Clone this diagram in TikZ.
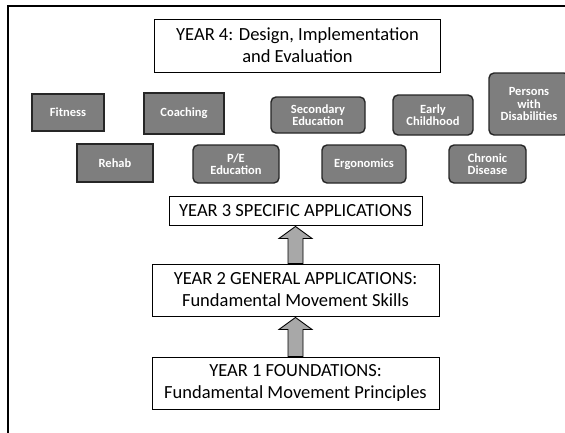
\documentclass[tikz,border=0pt]{standalone}
\usepackage{fontspec}
\setmainfont{Carlito}
\usetikzlibrary{calc}
\definecolor{boxgray}{HTML}{7E7E7E}
\definecolor{arrowgray}{HTML}{A8A8A8}
\tikzset{
  yearbox/.style={draw=black, line width=0.9pt, fill=white, inner sep=0pt, align=center,
    font=\fontsize{18.5}{22}\selectfont},
  appbox/.style={draw=black!85, line width=1.4pt, fill=boxgray, text=white, inner sep=0pt,
    align=center, font=\fontsize{12.5}{12.5}\selectfont\bfseries},
  roundbox/.style={appbox, rounded corners=5pt},
  blockarrow/.style={draw=black, line width=0.9pt, fill=arrowgray, line join=miter},
  frame/.style={draw=black, line width=1.4pt}
}
\begin{document}
\begin{tikzpicture}[x=1pt,y=-1pt]
\useasboundingbox (0,0) rectangle (565,432);
\draw[frame] (8,440) -- (8,6) -- (575,6);
% Year boxes
\node[yearbox, minimum width=286pt, minimum height=53pt] (y4) at (297.5,45.5)
  {YEAR 4: Design, Implementation\\and Evaluation};
\node[yearbox, minimum width=253pt, minimum height=29pt] (y3) at (295.5,210.5)
  {YEAR 3 SPECIFIC APPLICATIONS};
\node[yearbox, minimum width=287pt, minimum height=52pt] (y2) at (295.5,290)
  {YEAR 2 GENERAL APPLICATIONS:\\Fundamental Movement Skills};
\node[yearbox, minimum width=287pt, minimum height=52pt] (y1) at (295.5,383)
  {YEAR 1 FOUNDATIONS:\\Fundamental Movement Principles};
% Application boxes
\node[appbox, minimum width=72pt, minimum height=37pt] (fit) at (68,112.5) {Fitness};
\node[appbox, minimum width=80pt, minimum height=41pt] (coach) at (184,113.5) {Coaching};
\node[roundbox, minimum width=94pt, minimum height=36pt] (sec) at (318,115) {Secondary\\Education};
\node[roundbox, minimum width=80pt, minimum height=40pt] (early) at (433,115) {Early\\Childhood};
\node[roundbox, minimum width=80pt, minimum height=62pt] (pers) at (529,104) {Persons\\with\\Disabilities};
\node[appbox, minimum width=76pt, minimum height=38pt] (rehab) at (115,163) {Rehab};
\node[roundbox, minimum width=86pt, minimum height=38pt] (pe) at (236,164) {P/E\\Education};
\node[roundbox, minimum width=84pt, minimum height=38pt] (ergo) at (364,164) {Ergonomics};
\node[roundbox, minimum width=77pt, minimum height=38pt] (chron) at (487.5,164) {Chronic\\Disease};
% Block arrows
\draw[blockarrow] ($(y2.north)+(-7.5,0)$) -- ($(y3.south)+(-7.5,13)$) -- ($(y3.south)+(-16.5,13)$)
  -- ($(y3.south)+(0,1)$) -- ($(y3.south)+(16.5,13)$) -- ($(y3.south)+(7.5,13)$)
  -- ($(y2.north)+(7.5,0)$) -- cycle;
\draw[blockarrow] ($(y1.north)+(-7.5,0)$) -- ($(y2.south)+(-7.5,13)$) -- ($(y2.south)+(-16.5,13)$)
  -- ($(y2.south)+(0,1)$) -- ($(y2.south)+(16.5,13)$) -- ($(y2.south)+(7.5,13)$)
  -- ($(y1.north)+(7.5,0)$) -- cycle;
\end{tikzpicture}
\end{document}
